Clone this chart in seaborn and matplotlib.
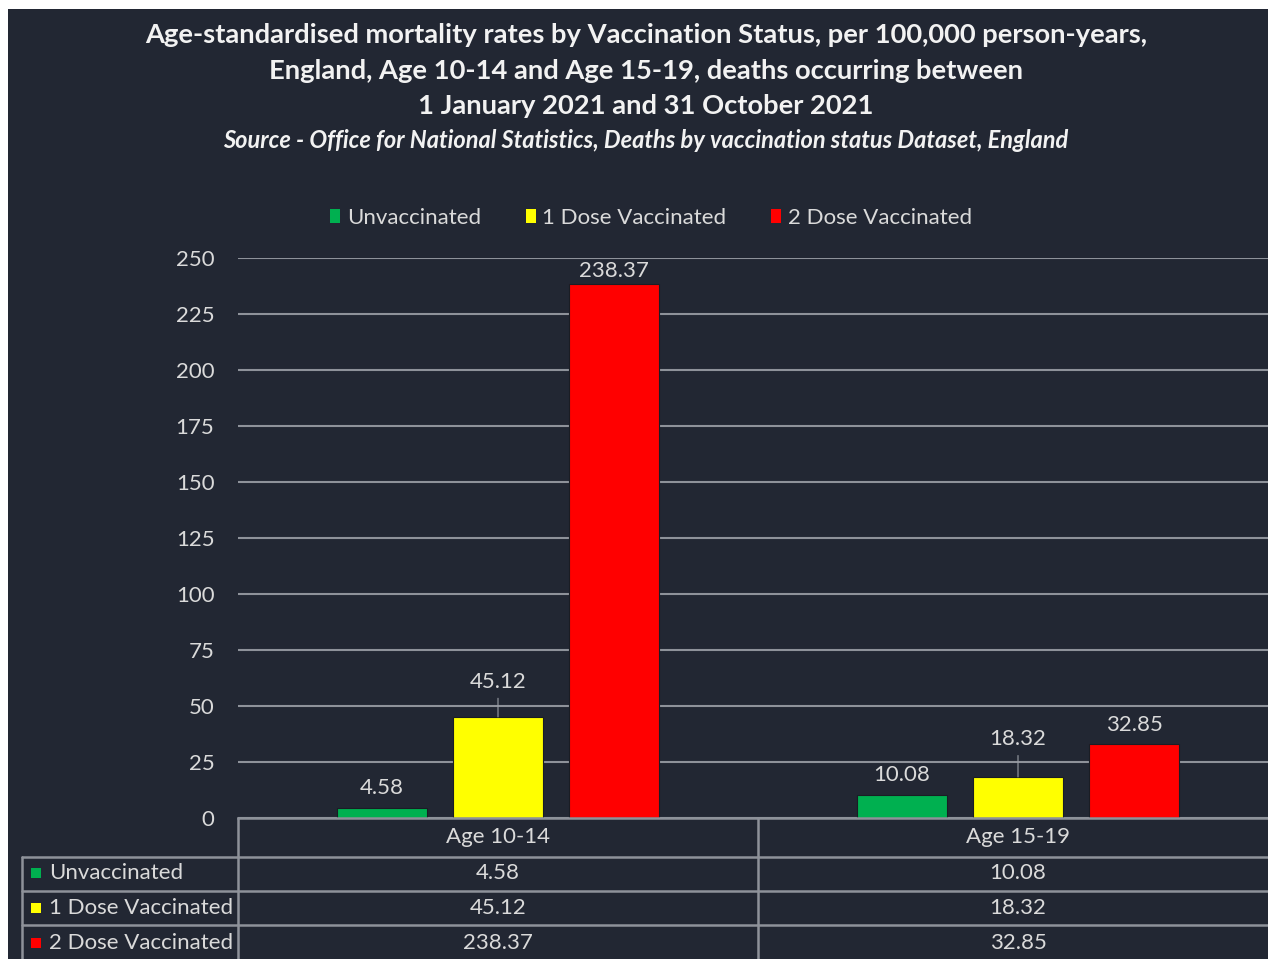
import matplotlib
matplotlib.use("Agg")
import matplotlib.pyplot as plt
import seaborn as sns
import pandas as pd
from matplotlib.patches import Patch, Rectangle
from matplotlib.lines import Line2D

# ---- data ----
age_groups = ["Age 10-14", "Age 15-19"]
statuses = ["Unvaccinated", "1 Dose Vaccinated", "2 Dose Vaccinated"]
unvaccinated = [4.58, 10.08]
one_dose = [45.12, 18.32]
two_dose = [238.37, 32.85]
y_ticks = [0, 25, 50, 75, 100, 125, 150, 175, 200, 225, 250]
title_lines = ["Age-standardised mortality rates by Vaccination Status, per 100,000 person-years,",
               "England, Age 10-14 and Age 15-19, deaths occurring between",
               "1 January 2021 and 31 October 2021"]
subtitle = "Source - Office for National Statistics, Deaths by vaccination status Dataset, England"

series = [unvaccinated, one_dose, two_dose]
colors = ["#00b050", "#ffff00", "#ff0000"]
BG = "#222733"
TXT = "#dadada"
GRID = "#8e929a"
FS = 16

rows = []
for s, vals in zip(statuses, series):
    for a, v in zip(age_groups, vals):
        rows.append({"Age": a, "Status": s, "Rate": v})
df = pd.DataFrame(rows)

sns.set_theme(style="dark")
plt.rcParams["font.family"] = ["Lato", "DejaVu Sans"]

W, H = 1268, 959
fig = plt.figure(figsize=(W / 100, H / 100), dpi=100, facecolor=BG)

def fx(px):
    return px / W

def fy(py):
    return 1 - py / H

# axes: x from 238 to 1278 px, y from 258 (250) to 818 (0)
ax = fig.add_axes([fx(238), fy(818), (1278 - 238) / W, (818 - 258) / H])
ax.set_facecolor(BG)

sns.barplot(data=df, x="Age", y="Rate", hue="Status", hue_order=statuses,
            order=age_groups, palette=colors, width=0.67, gap=0.23,
            saturation=1, edgecolor="#1a1d24", linewidth=0.8, ax=ax, legend=False)

ax.set_xlim(-0.5, 1.5)
ax.set_ylim(0, 250)
ax.set_yticks(y_ticks)
ax.set_yticklabels([str(t) for t in y_ticks])
ax.set_xticks([])
ax.set_xlabel("")
ax.set_ylabel("")
ax.tick_params(axis="y", length=0, pad=17, labelsize=FS, labelcolor=TXT)
ax.yaxis.grid(True, color=GRID, linewidth=1.5)
ax.xaxis.grid(False)
ax.set_axisbelow(True)
for sp in ["top", "right", "left"]:
    ax.spines[sp].set_visible(False)
ax.spines["bottom"].set_color(GRID)
ax.spines["bottom"].set_linewidth(1.8)

# data labels (offset of label centre above bar top, in points)
label_offsets = [[14, 14.5], [25, 27], [9.5, 14]]
leader = [[False, False], [True, True], [False, False]]
for i, cont in enumerate(ax.containers):
    for j, bar in enumerate(cont):
        v = series[i][j]
        xc = bar.get_x() + bar.get_width() / 2
        off = label_offsets[i][j]
        kw = dict(xy=(xc, v), xytext=(0, off), textcoords="offset points",
                  ha="center", va="center", fontsize=FS, color=TXT)
        if leader[i][j]:
            kw["arrowprops"] = dict(arrowstyle="-", color="#9a9ea6", lw=0.8,
                                    shrinkA=2, shrinkB=0)
        ax.annotate(f"{v:.2f}", **kw)

# titles
ty = [35, 71, 106]
for line, y in zip(title_lines, ty):
    fig.text(0.5 + fx(12), fy(y), line, ha="center", va="center", fontsize=19.7,
             fontweight="bold", color="#f2f2f2")
fig.text(0.5 + fx(12), fy(140), subtitle, ha="center", va="center", fontsize=17,
         fontweight="bold", fontstyle="italic", color="#f2f2f2")

# legend
handles = [Patch(facecolor=c, edgecolor="none") for c in colors]
fig.legend(handles, statuses, loc="center", bbox_to_anchor=(fx(651), fy(218)), ncol=3,
           frameon=False, fontsize=FS, labelcolor=TXT, handlelength=0.45, handleheight=0.6,
           handletextpad=0.3, columnspacing=2.0)

# data table below the axes
def hline(x0, x1, y):
    fig.add_artist(Line2D([fx(x0), fx(x1)], [fy(y), fy(y)], color=GRID, lw=1.8))

def vline(x, y0, y1):
    fig.add_artist(Line2D([fx(x), fx(x)], [fy(y0), fy(y1)], color=GRID, lw=1.8))

for y in [857, 891, 925]:
    hline(22, W, y)
vline(238, 818, H)
vline(758, 818, H)
vline(22, 857, H)

col_x = [498, 1018]
for a, x in zip(age_groups, col_x):
    fig.text(fx(x), fy(837), a, ha="center", va="center", fontsize=FS, color=TXT)
row_y = [873, 908, 943]
for s, c, vals, y in zip(statuses, colors, series, row_y):
    fig.add_artist(Rectangle((fx(31), fy(y + 5)), fx(10), 10 / H, facecolor=c,
                             edgecolor="none", transform=fig.transFigure))
    fig.text(fx(49), fy(y), s, ha="left", va="center", fontsize=FS, color=TXT)
    for v, x in zip(vals, col_x):
        fig.text(fx(x), fy(y), f"{v:.2f}", ha="center", va="center", fontsize=FS, color=TXT)

# screenshot white margins
fig.add_artist(Rectangle((0, fy(9)), 1, 9 / H, facecolor="white", edgecolor="none",
                         transform=fig.transFigure))
fig.add_artist(Rectangle((0, 0), fx(8), 1, facecolor="white", edgecolor="none",
                         transform=fig.transFigure))

fig.savefig("out.png", dpi=100, facecolor=BG)
